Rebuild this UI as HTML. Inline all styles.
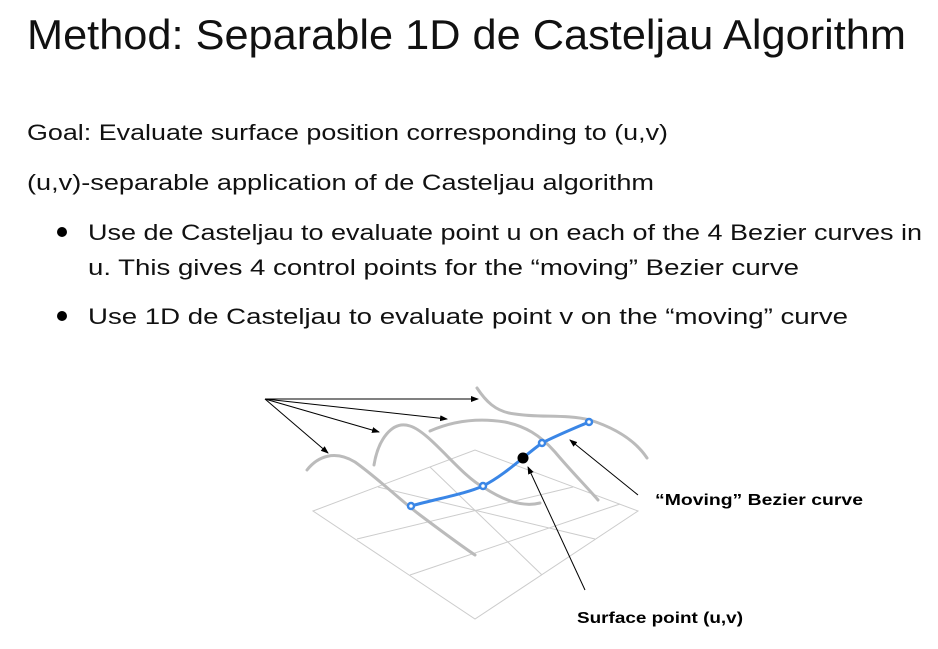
<!DOCTYPE html>
<html><head><meta charset="utf-8"><style>html,body{margin:0;padding:0;background:#fff}svg{display:block}</style></head>
<body>
<svg width="938" height="649" viewBox="0 0 938 649" xmlns="http://www.w3.org/2000/svg" font-family="Liberation Sans, sans-serif">
<defs>
<marker id="a" markerWidth="8" markerHeight="6" refX="7" refY="3" orient="auto" markerUnits="userSpaceOnUse"><path d="M0,0 L8,3 L0,6 z" fill="#000"/></marker>
</defs>
<text x="27" y="49" font-size="42" textLength="879" lengthAdjust="spacingAndGlyphs" fill="#111">Method: Separable 1D de Casteljau Algorithm</text>
<g font-size="22" fill="#111">
<text x="27" y="140" textLength="641" lengthAdjust="spacingAndGlyphs">Goal: Evaluate surface position corresponding to (u,v)</text>
<text x="27" y="190" textLength="627" lengthAdjust="spacingAndGlyphs">(u,v)-separable application of de Casteljau algorithm</text>
<text x="88" y="240" textLength="834" lengthAdjust="spacingAndGlyphs">Use de Casteljau to evaluate point u on each of the 4 Bezier curves in</text>
<text x="88" y="275" textLength="711" lengthAdjust="spacingAndGlyphs">u. This gives 4 control points for the “moving” Bezier curve</text>
<text x="88" y="324" textLength="760" lengthAdjust="spacingAndGlyphs">Use 1D de Casteljau to evaluate point v on the “moving” curve</text>
</g>
<circle cx="62" cy="232" r="5" fill="#000"/>
<circle cx="62" cy="316" r="5" fill="#000"/>
<!-- grid -->
<g stroke="#ccc" stroke-width="1" fill="none">
<path d="M313,511 L475,450 L638,511 L475,619 Z"/>
<path d="M357,539 L573,487"/><path d="M410,575 L620,504"/>
<path d="M378,487 L595,539"/><path d="M430,467 L542,575"/>
</g>
<!-- curves -->
<g stroke="#bbb" stroke-width="3" fill="none" stroke-linecap="round">
<path d="M307,470 C318,456 335,450 355,462 C380,480 400,500 420,515 C440,530 460,545 475,555"/>
<path d="M374,465 C378,440 392,420 410,426 C430,432 460,475 483,487 C500,498 520,508 540,503"/>
<path d="M430,431 C455,420 480,418 505,422 C525,426 540,435 555,452 C570,470 585,485 598,500"/>
<path d="M477,388 C485,400 495,412 515,414 C540,418 565,414 590,420 C615,428 635,440 647,458"/>
</g>
<!-- blue curve -->
<path d="M411,506 C440,498 465,494 483,486 C505,475 525,455 542,443 C560,434 575,428 589,422" stroke="#3a86e6" stroke-width="3" fill="none"/>
<g fill="#fff" stroke="#3a86e6" stroke-width="2.5">
<circle cx="411" cy="506" r="3"/><circle cx="483" cy="486" r="3"/><circle cx="542" cy="443" r="3"/><circle cx="589" cy="422" r="3"/>
</g>
<circle cx="523" cy="458" r="5.5" fill="#000"/>
<!-- arrows -->
<g stroke="#000" stroke-width="1" marker-end="url(#a)">
<line x1="265" y1="399" x2="478" y2="399"/>
<line x1="265" y1="399" x2="447" y2="419"/>
<line x1="265" y1="399" x2="379" y2="432"/>
<line x1="265" y1="399" x2="328" y2="453"/>
<line x1="638" y1="495" x2="570" y2="440"/>
<line x1="585" y1="590" x2="528" y2="467"/>
</g>
<g font-size="16" font-weight="bold" fill="#000">
<text x="655" y="505" textLength="208" lengthAdjust="spacingAndGlyphs">“Moving” Bezier curve</text>
<text x="577" y="623" textLength="166" lengthAdjust="spacingAndGlyphs">Surface point (u,v)</text>
</g>
</svg>
</body></html>
